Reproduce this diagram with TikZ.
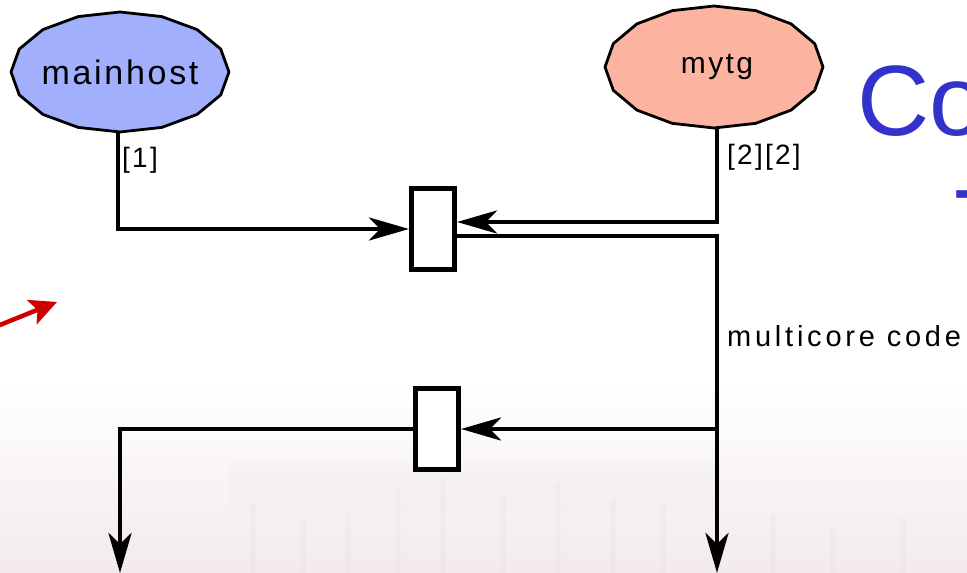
\documentclass[tikz,border=0pt]{standalone}
\usepackage{fontspec}
\setmainfont{Liberation Sans}
\newfontfamily\spacedfont[LetterSpace=8]{Liberation Sans}
\newfontfamily\widefont[LetterSpace=13]{Liberation Sans}
\usetikzlibrary{arrows.meta,shapes.geometric}

\definecolor{hostblue}{HTML}{A1AFFD}
\definecolor{tgsalmon}{HTML}{FCB4A0}
\definecolor{titleblue}{HTML}{3333CC}
\definecolor{hintred}{HTML}{CC0000}
\definecolor{photopink}{HTML}{F2EAEE}

\tikzset{
  wire/.style={line width=4.8pt, line join=miter, line cap=butt},
  flow/.style={wire, -{Stealth[length=40pt,width=23pt,inset=11pt]}},
  gate/.style={draw, line width=5pt, fill=white, inner sep=0pt,
               minimum width=43pt, minimum height=81pt},
  proc/.style={ellipse, draw=none, inner sep=0pt,
               minimum width=218pt, minimum height=121pt},
  tag/.style={font=\spacedfont\fontsize{28}{32}\selectfont, inner sep=0pt},
  outline/.style={line width=2.8pt, line join=round, draw=black}
}

% sixteen-sided outline of an ellipse: centre x, centre y, semi-axes a, b, fill
\newcommand\facetedoval[5]{%
  \filldraw[outline, fill=#5] ({#1+#3},#2)
    \foreach \t in {22.5,45,...,337.5}{ -- ({#1+#3*cos(\t)},{#2+#4*sin(\t)}) } -- cycle;}

\begin{document}
\begin{tikzpicture}[x=1pt,y=1pt]
\useasboundingbox (0,0) rectangle (967,573);
\clip (0,0) rectangle (967,573);

% faded photograph behind the lower part
\fill[white] (0,0) rectangle (967,573);
\shade[top color=white, bottom color=photopink] (0,0) rectangle (967,190);
\foreach \px/\ph in {250/70,300/55,345/60,395/85,440/95,500/80,555/90,610/75,660/70,770/60,830/45,900/55}{
  \fill[photopink!70!gray, opacity=0.10] (\px,0) rectangle ++(6,\ph);
}
\fill[photopink!80!gray, opacity=0.07] (230,60) rectangle (720,110);

% title fragments
\node[anchor=base west, inner sep=0pt, text=titleblue,
      font=\fontsize{100}{110}\selectfont] (title) at (857,437) {Co};
\node[anchor=base west, inner sep=0pt, text=titleblue,
      font=\fontsize{100}{110}\selectfont] (title2) at (954,313) {T};

% red pointer
\coordinate (rs) at (-20,240);
\coordinate (re) at (57,271);
\draw[line width=4.5pt, hintred, -{Stealth[length=27pt,width=26pt,inset=6pt]}] (rs) -- (re);

% processes
\facetedoval{120}{501}{109}{60}{hostblue}
\facetedoval{714}{506}{109}{61}{tgsalmon}
\node[proc, font=\spacedfont\fontsize{34}{38}\selectfont] (mh) at (120,501) {mainhost};
\node[proc, font=\spacedfont\fontsize{30}{34}\selectfont] (tg) at (717,506) {mytg};

% channel boxes
\node[gate] (b1) at (433,344) {};
\node[gate] (b2) at (437,144) {};

% free ends at the bottom
\coordinate (bl) at (120,0);
\coordinate (br) at (717,0);
\coordinate (jn) at (717,144);

% connectors
\draw[flow] (mh.south) ++(-2,0) |- (b1.west);
\draw[flow] (tg.south) |- ([yshift=7pt]b1.east);
\draw[flow] ([yshift=-7pt]b1.east) -| (br);
\draw[flow] (jn) -- (b2.east);
\draw[flow] (b2.west) -| (bl);

% labels
\node[tag, anchor=west] (l1) at (122,413) {[1]};
\node[tag, anchor=west] (l2) at (727,416) {[2][2]};
\node[tag, anchor=base west, font=\widefont\fontsize{29}{32}\selectfont] (l3) at (727,226) {multicore code};
\end{tikzpicture}
\end{document}
